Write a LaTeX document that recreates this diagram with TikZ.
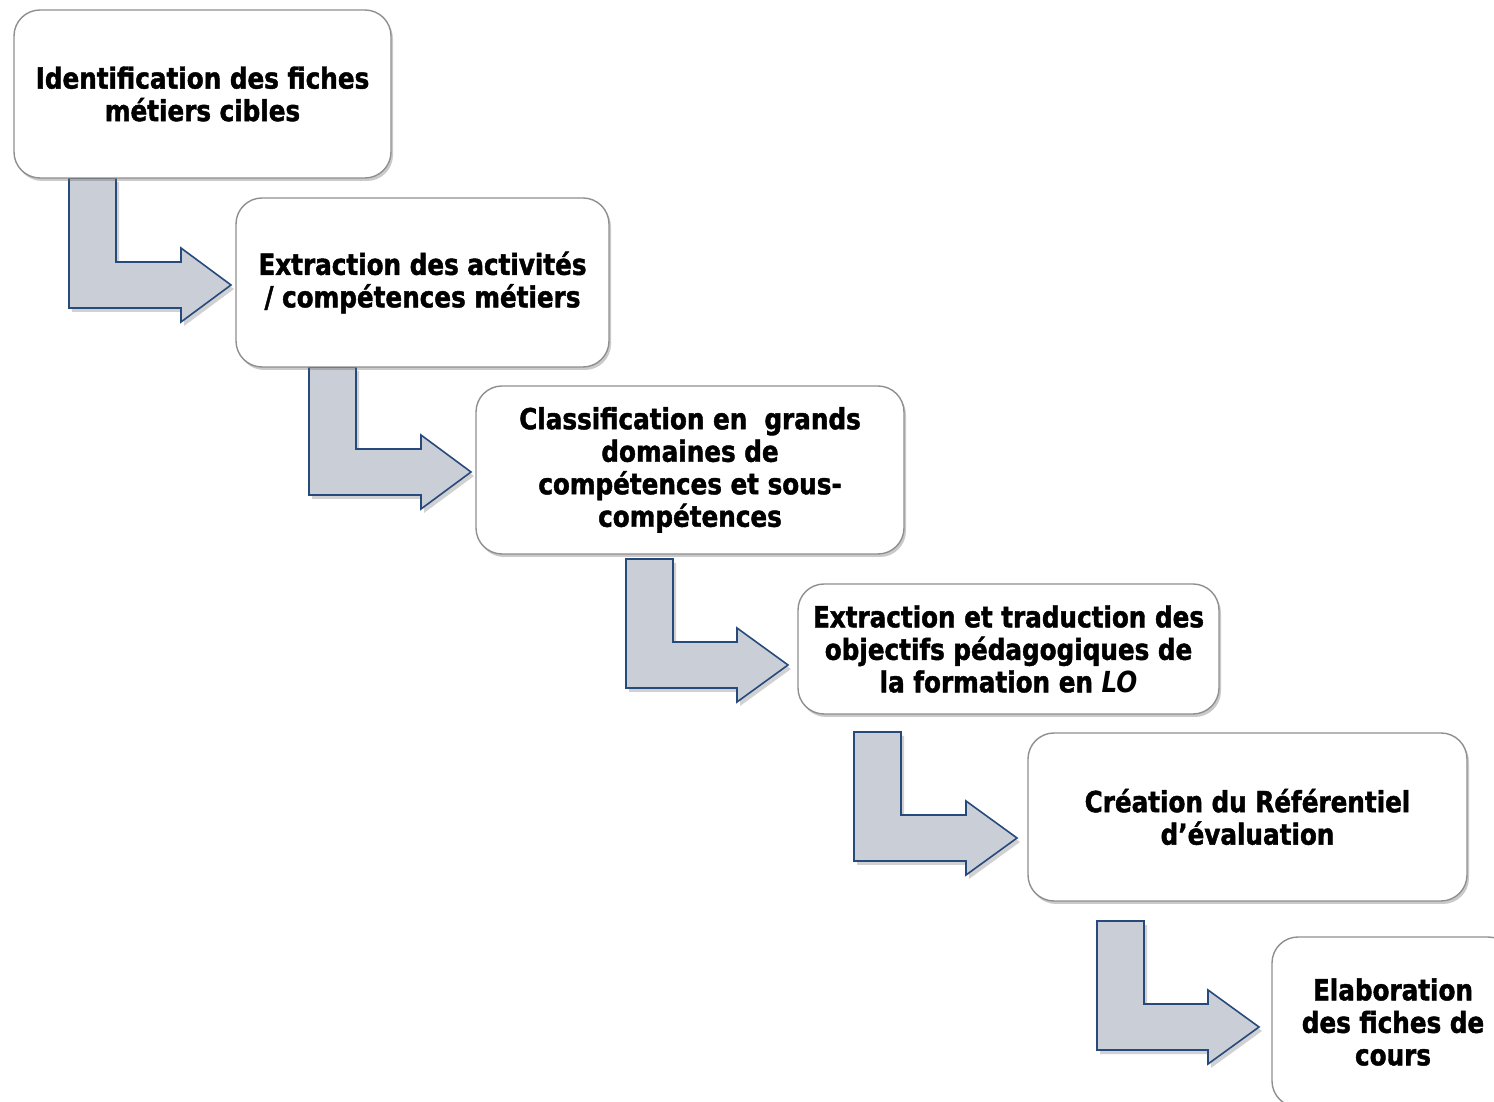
\documentclass[tikz,border=0pt]{standalone}
\usepackage{fontspec}
\setmainfont{DejaVu Sans}[FakeStretch=0.85, BoldFeatures={FakeBold=1.5}]
\usetikzlibrary{shadows}
\definecolor{boxline}{HTML}{8F8F8F}
\definecolor{arrfill}{HTML}{CACED7}
\definecolor{arrline}{HTML}{274A7C}
\tikzset{
  stepbox/.style={draw=boxline, line width=1.4pt, fill=white, rounded corners=26pt,
    align=center, inner sep=4pt,
    font=\bfseries\fontsize{29}{32.5}\selectfont,
    drop shadow={shadow xshift=2pt, shadow yshift=-3pt, opacity=0.35, fill=black!60}},
  bentarrow/.style={draw=arrline, line width=1.6pt, fill=arrfill, line join=miter,
    drop shadow={shadow xshift=3pt, shadow yshift=-4pt, opacity=0.3, fill=black!60}}
}
% #1 left x, #2 top y, #3 shaft centre y, #4 head start x, #5 tip x
\newcommand\bentarr[5]{%
  \path[bentarrow] (#1,#2) -- ++(47,0) -- (#1+47,#3+23) -- (#4,#3+23) -- (#4,#3+37)
    -- (#5,#3) -- (#4,#3-37) -- (#4,#3-23) -- (#1,#3-23) -- cycle;}
\begin{document}
\begin{tikzpicture}[x=1pt,y=1pt]
\useasboundingbox (0,0) rectangle (1494,1101);
\clip (0,0) rectangle (1494,1101);
% arrows first (behind boxes)
\bentarr{69}{923}{816}{181}{231}
\bentarr{309}{734}{629}{421}{471}
\bentarr{626}{542}{436}{737}{788}
\bentarr{854}{369}{263}{966}{1017}
\bentarr{1097}{180}{74}{1208}{1259}
% boxes
\node[stepbox, minimum width=377pt, minimum height=168pt] (b1) at (202.5,1007)
  {Identification des fiches\\métiers cibles};
\node[stepbox, minimum width=373pt, minimum height=169pt] (b2) at (422.5,818.5)
  {Extraction des activités\\/ compétences métiers};
\node[stepbox, minimum width=428pt, minimum height=168pt] (b3) at (690,631)
  {Classification en \ grands\\domaines de\\compétences et sous-\\compétences};
\node[stepbox, minimum width=421pt, minimum height=130pt] (b4) at (1008.5,452)
  {Extraction et traduction des\\objectifs pédagogiques de\\la formation en \textit{LO}};
\node[stepbox, minimum width=439pt, minimum height=168pt] (b5) at (1247.5,284)
  {Création du Référentiel\\d’évaluation};
\node[stepbox, minimum width=242pt, minimum height=170pt] (b6) at (1393,79)
  {Elaboration\\des fiches de\\cours};
\end{tikzpicture}
\end{document}
